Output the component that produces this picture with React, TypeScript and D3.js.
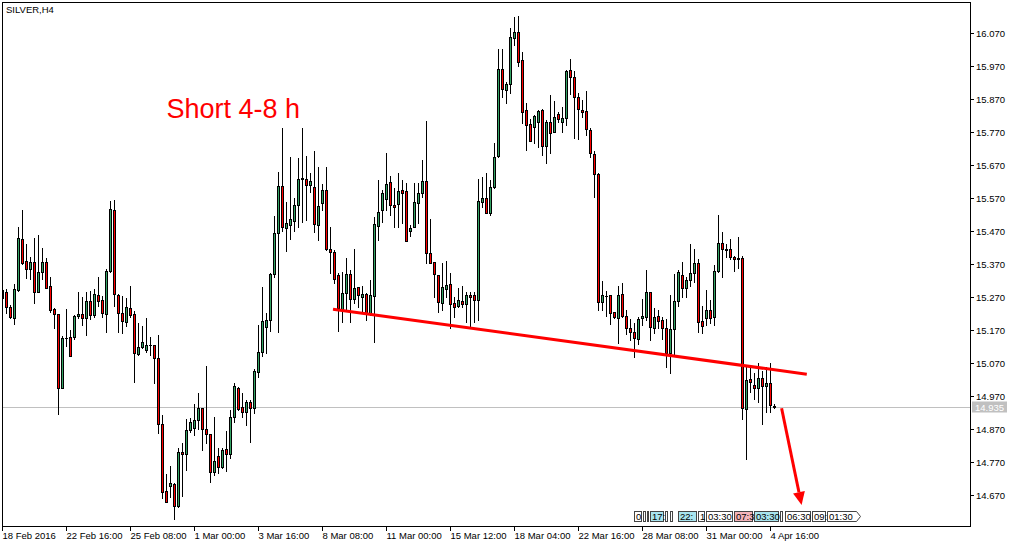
import React from "react";
import * as d3 from "d3";

const symbol = "SILVER,H4";
const note = "Short 4-8 h";
const lastPrice = 14.935;

// H4 bars from 18 Feb 2016 00:00, [open, high, low, close]
const candles: [number, number, number, number][] = [
  [15.265, 15.295, 15.26, 15.29], [15.285, 15.293, 15.222, 15.238], [15.238, 15.245, 15.204, 15.207],
  [15.204, 15.308, 15.186, 15.292], [15.29, 15.48, 15.288, 15.447], [15.445, 15.533, 15.368, 15.373],
  [15.377, 15.429, 15.328, 15.355], [15.354, 15.39, 15.325, 15.374], [15.374, 15.449, 15.252, 15.285],
  [15.285, 15.457, 15.283, 15.344], [15.344, 15.418, 15.325, 15.374], [15.374, 15.388, 15.297, 15.297],
  [15.301, 15.329, 15.225, 15.231], [15.232, 15.235, 15.176, 15.219], [15.219, 15.219, 14.915, 14.992],
  [14.994, 15.151, 14.992, 15.144], [15.144, 15.232, 15.121, 15.146], [15.147, 15.169, 15.091, 15.091],
  [15.149, 15.216, 15.142, 15.21], [15.212, 15.283, 15.204, 15.217], [15.217, 15.268, 15.184, 15.204],
  [15.204, 15.283, 15.153, 15.256], [15.257, 15.288, 15.202, 15.214], [15.216, 15.293, 15.209, 15.277],
  [15.275, 15.329, 15.242, 15.257], [15.259, 15.273, 15.209, 15.221], [15.219, 15.353, 15.164, 15.347],
  [15.347, 15.56, 15.344, 15.535], [15.533, 15.563, 15.243, 15.277], [15.275, 15.277, 15.164, 15.222],
  [15.22, 15.272, 15.159, 15.197], [15.194, 15.265, 15.181, 15.238], [15.235, 15.302, 15.207, 15.216],
  [15.218, 15.227, 15.013, 15.098], [15.096, 15.19, 15.093, 15.118], [15.118, 15.182, 15.116, 15.132],
  [15.11, 15.206, 15.103, 15.125], [15.125, 15.148, 15.094, 15.123], [15.123, 15.123, 15.007, 15.083],
  [15.083, 15.154, 14.856, 14.883], [14.883, 14.913, 14.659, 14.679], [14.68, 14.733, 14.649, 14.649],
  [14.697, 14.757, 14.664, 14.704], [14.702, 14.704, 14.595, 14.637], [14.637, 14.81, 14.634, 14.8],
  [14.8, 14.826, 14.667, 14.792], [14.792, 14.9, 14.745, 14.865], [14.866, 14.903, 14.861, 14.889],
  [14.871, 14.945, 14.851, 14.895], [14.895, 14.978, 14.868, 14.932], [14.932, 14.932, 14.806, 14.87],
  [14.868, 15.06, 14.828, 14.854], [14.853, 14.853, 14.707, 14.74], [14.74, 14.905, 14.73, 14.773],
  [14.787, 14.81, 14.737, 14.755], [14.755, 14.81, 14.75, 14.805], [14.807, 14.863, 14.743, 14.792],
  [14.794, 14.927, 14.782, 14.905], [14.904, 15.007, 14.891, 14.998], [14.992, 14.995, 14.928, 14.929],
  [14.936, 14.978, 14.904, 14.92], [14.922, 14.957, 14.881, 14.95], [14.95, 14.957, 14.831, 14.932],
  [14.932, 15.051, 14.917, 15.045], [15.041, 15.184, 15.028, 15.101], [15.101, 15.3, 15.09, 15.196],
  [15.179, 15.221, 15.099, 15.2], [15.199, 15.341, 15.166, 15.339], [15.339, 15.514, 15.331, 15.462],
  [15.464, 15.649, 15.164, 15.604], [15.604, 15.78, 15.47, 15.48], [15.478, 15.556, 15.407, 15.492],
  [15.488, 15.693, 15.444, 15.505], [15.5, 15.57, 15.47, 15.547], [15.549, 15.689, 15.482, 15.628],
  [15.63, 15.78, 15.497, 15.627], [15.628, 15.695, 15.502, 15.607], [15.61, 15.644, 15.588, 15.621],
  [15.601, 15.71, 15.467, 15.491], [15.488, 15.664, 15.442, 15.544], [15.555, 15.613, 15.533, 15.593],
  [15.593, 15.662, 15.411, 15.416], [15.416, 15.48, 15.341, 15.406], [15.404, 15.411, 15.311, 15.323],
  [15.336, 15.341, 15.167, 15.235], [15.232, 15.346, 15.194, 15.28], [15.28, 15.386, 15.23, 15.338],
  [15.338, 15.351, 15.194, 15.262], [15.262, 15.416, 15.25, 15.295], [15.298, 15.3, 15.24, 15.275],
  [15.268, 15.303, 15.225, 15.277], [15.277, 15.28, 15.199, 15.222], [15.22, 15.32, 15.215, 15.275],
  [15.273, 15.512, 15.134, 15.489], [15.485, 15.624, 15.442, 15.526], [15.533, 15.593, 15.497, 15.583],
  [15.565, 15.706, 15.533, 15.611], [15.618, 15.637, 15.517, 15.548], [15.548, 15.598, 15.48, 15.543],
  [15.55, 15.644, 15.48, 15.59], [15.593, 15.623, 15.492, 15.583], [15.59, 15.614, 15.44, 15.44],
  [15.47, 15.487, 15.454, 15.478], [15.482, 15.614, 15.482, 15.556], [15.555, 15.614, 15.492, 15.583],
  [15.583, 15.684, 15.573, 15.62], [15.62, 15.802, 15.371, 15.401], [15.401, 15.504, 15.371, 15.371],
  [15.374, 15.374, 15.268, 15.339], [15.336, 15.336, 15.225, 15.255], [15.252, 15.373, 15.23, 15.3],
  [15.294, 15.378, 15.27, 15.305], [15.308, 15.341, 15.174, 15.247], [15.25, 15.27, 15.207, 15.24],
  [15.243, 15.295, 15.238, 15.26], [15.257, 15.302, 15.238, 15.248], [15.247, 15.285, 15.194, 15.275],
  [15.275, 15.285, 15.179, 15.27], [15.275, 15.285, 15.194, 15.259], [15.259, 15.627, 15.199, 15.56],
  [15.558, 15.634, 15.543, 15.568], [15.568, 15.644, 15.523, 15.523], [15.523, 15.623, 15.519, 15.603],
  [15.601, 15.737, 15.598, 15.694], [15.696, 16.022, 15.694, 15.96], [15.96, 16.02, 15.874, 15.898],
  [15.896, 15.922, 15.858, 15.914], [15.914, 16.083, 15.886, 16.056], [16.053, 16.118, 16.033, 16.072],
  [16.072, 16.12, 15.969, 15.982], [15.987, 16.012, 15.795, 15.831], [15.836, 15.856, 15.714, 15.789],
  [15.792, 15.807, 15.743, 15.743], [15.783, 15.821, 15.735, 15.818], [15.8, 15.836, 15.723, 15.833],
  [15.836, 15.838, 15.699, 15.727], [15.727, 15.805, 15.676, 15.798], [15.798, 15.881, 15.704, 15.767],
  [15.77, 15.863, 15.768, 15.815], [15.823, 15.829, 15.8, 15.807], [15.8, 15.844, 15.77, 15.81],
  [15.81, 15.957, 15.79, 15.954], [15.957, 15.989, 15.884, 15.935], [15.935, 15.954, 15.75, 15.874],
  [15.876, 15.886, 15.747, 15.838], [15.836, 15.866, 15.815, 15.831], [15.833, 15.894, 15.76, 15.777],
  [15.775, 15.78, 15.694, 15.704], [15.701, 15.711, 15.573, 15.642], [15.642, 15.644, 15.23, 15.255],
  [15.255, 15.318, 15.23, 15.275], [15.272, 15.288, 15.211, 15.273], [15.275, 15.275, 15.187, 15.22],
  [15.223, 15.225, 15.204, 15.207], [15.206, 15.303, 15.131, 15.275], [15.278, 15.313, 15.209, 15.211],
  [15.211, 15.23, 15.157, 15.174], [15.174, 15.202, 15.139, 15.162], [15.162, 15.189, 15.088, 15.144],
  [15.141, 15.209, 15.128, 15.201], [15.204, 15.263, 15.184, 15.211], [15.209, 15.351, 15.199, 15.283],
  [15.283, 15.283, 15.139, 15.177], [15.176, 15.235, 15.161, 15.207], [15.21, 15.23, 15.174, 15.197],
  [15.198, 15.209, 15.142, 15.174], [15.176, 15.202, 15.056, 15.1], [15.1, 15.275, 15.04, 15.171],
  [15.171, 15.339, 15.09, 15.257], [15.256, 15.351, 15.242, 15.344], [15.335, 15.376, 15.27, 15.297],
  [15.297, 15.329, 15.27, 15.322], [15.322, 15.43, 15.302, 15.341], [15.343, 15.416, 15.315, 15.371],
  [15.371, 15.383, 15.164, 15.194], [15.196, 15.242, 15.159, 15.182], [15.204, 15.29, 15.184, 15.229],
  [15.229, 15.26, 15.189, 15.206], [15.207, 15.366, 15.184, 15.348], [15.348, 15.517, 15.346, 15.432],
  [15.434, 15.465, 15.331, 15.416], [15.414, 15.429, 15.389, 15.413], [15.414, 15.444, 15.383, 15.389],
  [15.389, 15.393, 15.348, 15.383], [15.386, 15.45, 15.356, 15.383], [15.386, 15.393, 14.898, 14.932],
  [14.929, 15.063, 14.777, 15.019], [15.02, 15.053, 14.982, 15.012], [15.002, 15.038, 14.959, 14.992],
  [14.992, 15.068, 14.952, 15.025], [15.025, 15.046, 14.884, 14.999], [14.999, 15.058, 14.922, 15.01],
  [15.007, 15.07, 14.922, 14.942], [14.939, 14.945, 14.932, 14.935],
];

const priceTicks = [16.07, 15.97, 15.87, 15.77, 15.67, 15.57, 15.47, 15.37, 15.27, 15.17, 15.07, 14.97, 14.87, 14.77, 14.67];

// [bar index, label]
const timeLabels: [number, string][] = [
  [0, "18 Feb 2016"], [16, "22 Feb 16:00"], [32, "25 Feb 08:00"], [48, "1 Mar 00:00"],
  [64, "3 Mar 16:00"], [80, "8 Mar 08:00"], [96, "11 Mar 00:00"], [112, "15 Mar 12:00"],
  [128, "18 Mar 04:00"], [144, "22 Mar 16:00"], [160, "28 Mar 08:00"], [176, "31 Mar 00:00"],
  [192, "4 Apr 16:00"],
];

// drawn objects, [bar, price]
const trendLine: [number, number][] = [[82.75, 15.232], [201.2, 15.035]];
const forecastArrow: [number, number][] = [[194.9, 14.932], [199.9, 14.639]];
const notePos: [number, number] = [41.1, 15.811];

// calendar events along the bottom: [bar, label, importance]
const events: [number, string, string][] = [
  [158.1, "0", "none"], [160.3, "", "none"], [161.2, "", "none"], [162, "17:", "low"],
  [165.75, "", "none"], [167, "", "none"], [169, "22:", "low"], [174, "1", "none"],
  [176, "03:30", "none"], [183, "07:3", "high"], [188, "03:30", "low"], [194.5, "", "none"],
  [195.75, "06:30", "none"], [202.5, "09:", "none"], [206.25, "01:30", "none"],
];

const W = 1017;
const H = 547;
const left = 2;
const top = 2;
const right = 970;
const bottom = 526;
const font = "'Liberation Sans', Arial, sans-serif";
const bull = "#33a364";
const bear = "#ff0000";
const eventFill: Record<string, string> = { none: "#ffffff", low: "#a8e4ee", high: "#f4b4ba" };

const App: React.FC = () => {
  const x = d3.scaleLinear().domain([0, 193]).range([2, 774]);
  const y = d3.scaleLinear().domain([14.67, 16.07]).range([494.7, 32.7]);

  const lastY = Math.round(y(lastPrice)) + 0.5;

  // arrow head
  const [a0, a1] = forecastArrow;
  const ax0 = x(a0[0]), ay0 = y(a0[1]), ax1 = x(a1[0]), ay1 = y(a1[1]);
  const len = Math.hypot(ax1 - ax0, ay1 - ay0);
  const ux = (ax1 - ax0) / len, uy = (ay1 - ay0) / len;
  const headL = 13, headW = 6;
  const bx = ax1 - ux * headL, by = ay1 - uy * headL;
  const head = [
    [ax1, ay1],
    [bx - uy * headW, by + ux * headW],
    [bx + uy * headW, by - ux * headW],
  ].map(p => p.join(",")).join(" ");

  // event boxes
  const evX = events.map(e => Math.round(x(e[0])));
  const eventBoxes = events.map((e, i) => {
    const x0 = evX[i];
    const want = e[1] ? e[1].length * 5 + 5 : 3;
    const next = i < events.length - 1 ? evX[i + 1] - x0 - 1 : want;
    return { x0, w: Math.max(2, Math.min(want, next)), label: e[1], kind: e[2], last: i === events.length - 1 };
  });

  return (
    <div style={{ position: "absolute", left: 0, top: 0, width: W, height: H, background: "#fff" }}>
      <svg width={W} height={H} style={{ display: "block" }} fontFamily={font}>
        <defs>
          <clipPath id="plot">
            <rect x={left} y={top} width={right - left} height={bottom - top} />
          </clipPath>
        </defs>
        <rect x={0} y={0} width={W} height={H} fill="#fff" />

        <line x1={left} x2={right} y1={lastY} y2={lastY} stroke="#c0c0c0" strokeWidth={1} />

        <g clipPath="url(#plot)">
          {candles.map((d, i) => {
            const [o, h, l, c] = d;
            const cx = Math.round(x(i));
            const t = Math.round(y(Math.max(o, c)));
            const b = Math.round(y(Math.min(o, c)));
            return (
              <g key={i}>
                <line x1={cx + 0.5} x2={cx + 0.5} y1={Math.round(y(h))} y2={Math.round(y(l)) + 1} stroke="#000" strokeWidth={1} />
                {b - t >= 1 ? (
                  <rect x={cx - 0.5} y={t + 0.5} width={2} height={b - t} fill={c > o ? bull : bear} stroke="#000" strokeWidth={1} shapeRendering="crispEdges" />
                ) : (
                  <line x1={cx - 1} x2={cx + 2} y1={t + 0.5} y2={t + 0.5} stroke="#000" strokeWidth={1} />
                )}
              </g>
            );
          })}

          <line x1={x(trendLine[0][0])} y1={y(trendLine[0][1])} x2={x(trendLine[1][0])} y2={y(trendLine[1][1])} stroke="#ff0000" strokeWidth={3} />
          <line x1={ax0} y1={ay0} x2={bx} y2={by} stroke="#ff0000" strokeWidth={3} />
          <polygon points={head} fill="#ff0000" />

          {eventBoxes.map((e, i) => (
            <g key={i}>
              {e.last ? (
                <polygon
                  points={`${e.x0 + 0.5},511.5 ${e.x0 + e.w - 0.5},511.5 ${e.x0 + e.w + 3.5},516.5 ${e.x0 + e.w - 0.5},521.5 ${e.x0 + 0.5},521.5`}
                  fill={eventFill[e.kind]} stroke="#444" strokeWidth={1} />
              ) : (
                <rect x={e.x0 + 0.5} y={511.5} width={e.w - 1} height={10} fill={eventFill[e.kind]} stroke="#444" strokeWidth={1} />
              )}
              {e.label && (
                <text x={e.x0 + 2} y={520} fontSize={9.5} fill="#000">{e.label}</text>
              )}
            </g>
          ))}
        </g>

        <text x={6} y={13} fontSize={9.5} fill="#000">{symbol}</text>
        <text x={x(notePos[0])} y={y(notePos[1])} fontSize={27} fill="#ff0000" fontFamily="'Liberation Sans', Arial, sans-serif">{note}</text>

        <rect x={left + 0.5} y={top + 0.5} width={right - left} height={bottom - top} fill="none" stroke="#000" strokeWidth={1} />

        {priceTicks.map(t => {
          const ty = Math.round(y(t)) + 0.5;
          return (
            <g key={t}>
              <line x1={right} x2={right + 4} y1={ty} y2={ty} stroke="#000" />
              <text x={976} y={ty + 3.5} fontSize={9.5} fill="#000">{t.toFixed(3)}</text>
            </g>
          );
        })}

        <rect x={972} y={lastY - 6} width={35} height={11} fill="#c0c0c0" />
        <text x={975} y={lastY + 3.5} fontSize={9.5} fill="#fff">{lastPrice.toFixed(3)}</text>

        {timeLabels.map(([i, label]) => {
          const tx = Math.round(x(i)) + 0.5;
          return (
            <g key={i}>
              <line x1={tx} x2={tx} y1={bottom} y2={bottom + 5} stroke="#000" />
              <text x={tx} y={539} fontSize={9.5} fill="#000">{label}</text>
            </g>
          );
        })}
      </svg>
    </div>
  );
};

export default App;
